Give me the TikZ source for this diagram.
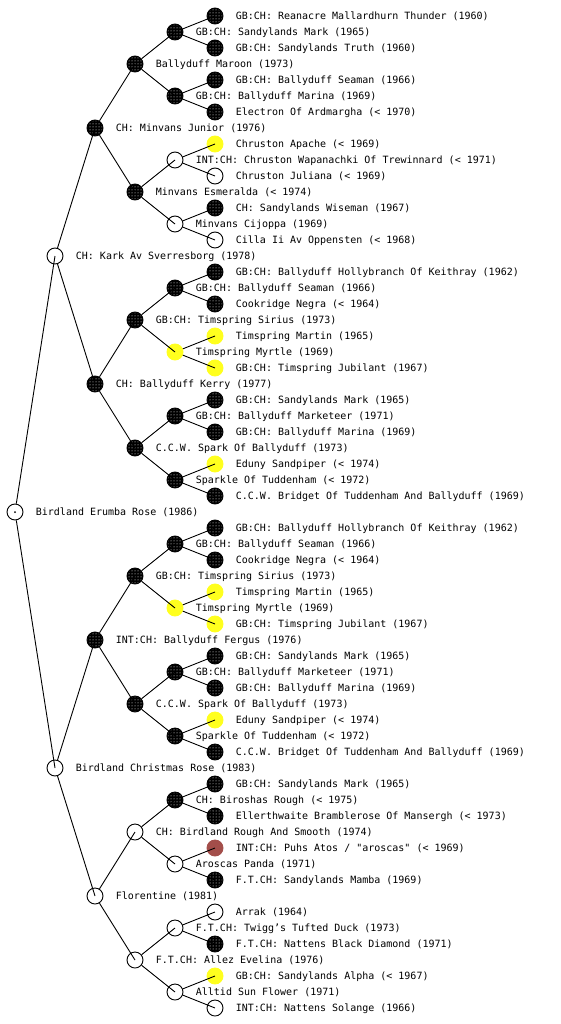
\documentclass[tikz,border=0pt]{standalone}
\usepackage{fontspec}
\setmonofont{DejaVu Sans Mono}
\usetikzlibrary{positioning,patterns}
\definecolor{dogyel}{HTML}{FFFF1E}
\definecolor{dogbrn}{HTML}{A34E4A}

\begin{document}
\begin{tikzpicture}[x=1pt, y=-1pt, line width=0.9pt,
  dog/.style={circle, draw, minimum size=16pt, inner sep=0pt},
  emp/.style={dog},
  champ/.style={dog, preaction={fill=black}, pattern=dots, pattern color=white},
  yel/.style={dog, draw=dogyel, fill=dogyel},
  brn/.style={dog, draw=dogbrn, fill=dogbrn},
  proband/.style={dog, path picture={\fill (path picture bounding box.center) circle (1pt);}},
  dogname/.style={font=\ttfamily, inner sep=0pt, text height=7.3pt, text depth=0pt}
]
\useasboundingbox (0,0) rectangle (560,1024);
% row / generation / look / name, one row every 16px
\foreach \r/\g/\s/\t in {
  0/5/champ/{GB:CH: Reanacre Mallardhurn Thunder (1960)},
  1/4/champ/{GB:CH: Sandylands Mark (1965)},
  2/5/champ/{GB:CH: Sandylands Truth (1960)},
  3/3/champ/{Ballyduff Maroon (1973)},
  4/5/champ/{GB:CH: Ballyduff Seaman (1966)},
  5/4/champ/{GB:CH: Ballyduff Marina (1969)},
  6/5/champ/{Electron Of Ardmargha (< 1970)},
  7/2/champ/{CH: Minvans Junior (1976)},
  8/5/yel/{Chruston Apache (< 1969)},
  9/4/emp/{INT:CH: Chruston Wapanachki Of Trewinnard (< 1971)},
  10/5/emp/{Chruston Juliana (< 1969)},
  11/3/champ/{Minvans Esmeralda (< 1974)},
  12/5/champ/{CH: Sandylands Wiseman (1967)},
  13/4/emp/{Minvans Cijoppa (1969)},
  14/5/emp/{Cilla Ii Av Oppensten (< 1968)},
  15/1/emp/{CH: Kark Av Sverresborg (1978)},
  16/5/champ/{GB:CH: Ballyduff Hollybranch Of Keithray (1962)},
  17/4/champ/{GB:CH: Ballyduff Seaman (1966)},
  18/5/champ/{Cookridge Negra (< 1964)},
  19/3/champ/{GB:CH: Timspring Sirius (1973)},
  20/5/yel/{Timspring Martin (1965)},
  21/4/yel/{Timspring Myrtle (1969)},
  22/5/yel/{GB:CH: Timspring Jubilant (1967)},
  23/2/champ/{CH: Ballyduff Kerry (1977)},
  24/5/champ/{GB:CH: Sandylands Mark (1965)},
  25/4/champ/{GB:CH: Ballyduff Marketeer (1971)},
  26/5/champ/{GB:CH: Ballyduff Marina (1969)},
  27/3/champ/{C.C.W. Spark Of Ballyduff (1973)},
  28/5/yel/{Eduny Sandpiper (< 1974)},
  29/4/champ/{Sparkle Of Tuddenham (< 1972)},
  30/5/champ/{C.C.W. Bridget Of Tuddenham And Ballyduff (1969)},
  31/0/proband/{Birdland Erumba Rose (1986)},
  32/5/champ/{GB:CH: Ballyduff Hollybranch Of Keithray (1962)},
  33/4/champ/{GB:CH: Ballyduff Seaman (1966)},
  34/5/champ/{Cookridge Negra (< 1964)},
  35/3/champ/{GB:CH: Timspring Sirius (1973)},
  36/5/yel/{Timspring Martin (1965)},
  37/4/yel/{Timspring Myrtle (1969)},
  38/5/yel/{GB:CH: Timspring Jubilant (1967)},
  39/2/champ/{INT:CH: Ballyduff Fergus (1976)},
  40/5/champ/{GB:CH: Sandylands Mark (1965)},
  41/4/champ/{GB:CH: Ballyduff Marketeer (1971)},
  42/5/champ/{GB:CH: Ballyduff Marina (1969)},
  43/3/champ/{C.C.W. Spark Of Ballyduff (1973)},
  44/5/yel/{Eduny Sandpiper (< 1974)},
  45/4/champ/{Sparkle Of Tuddenham (< 1972)},
  46/5/champ/{C.C.W. Bridget Of Tuddenham And Ballyduff (1969)},
  47/1/emp/{Birdland Christmas Rose (1983)},
  48/5/champ/{GB:CH: Sandylands Mark (1965)},
  49/4/champ/{CH: Biroshas Rough (< 1975)},
  50/5/champ/{Ellerthwaite Bramblerose Of Mansergh (< 1973)},
  51/3/emp/{CH: Birdland Rough And Smooth (1974)},
  52/5/brn/{INT:CH: Puhs Atos / "aroscas" (< 1969)},
  53/4/emp/{Aroscas Panda (1971)},
  54/5/champ/{F.T.CH: Sandylands Mamba (1969)},
  55/2/emp/{Florentine (1981)},
  56/5/emp/{Arrak (1964)},
  57/4/emp/{F.T.CH: Twigg’s Tufted Duck (1973)},
  58/5/champ/{F.T.CH: Nattens Black Diamond (1971)},
  59/3/emp/{F.T.CH: Allez Evelina (1976)},
  60/5/yel/{GB:CH: Sandylands Alpha (< 1967)},
  61/4/emp/{Alltid Sun Flower (1971)},
  62/5/emp/{INT:CH: Nattens Solange (1966)}}{
  \node[\s] (n\r) at ({15+40*\g},{16+16*\r}) {};
  \node[dogname, right=12pt of n\r] (t\r) {\t};}

% parent row / offset to sire and dam
\foreach \p/\d [evaluate=\p as \a using int(\p-\d),
                evaluate=\p as \b using int(\p+\d)] in {
  31/16, 15/8, 47/8, 7/4, 23/4, 39/4, 55/4,
  3/2, 11/2, 19/2, 27/2, 35/2, 43/2, 51/2, 59/2,
  1/1, 5/1, 9/1, 13/1, 17/1, 21/1, 25/1, 29/1,
  33/1, 37/1, 41/1, 45/1, 49/1, 53/1, 57/1, 61/1}{
  \draw (n\p) -- (n\a.center) (n\p) -- (n\b.center);}
\end{tikzpicture}
\end{document}
